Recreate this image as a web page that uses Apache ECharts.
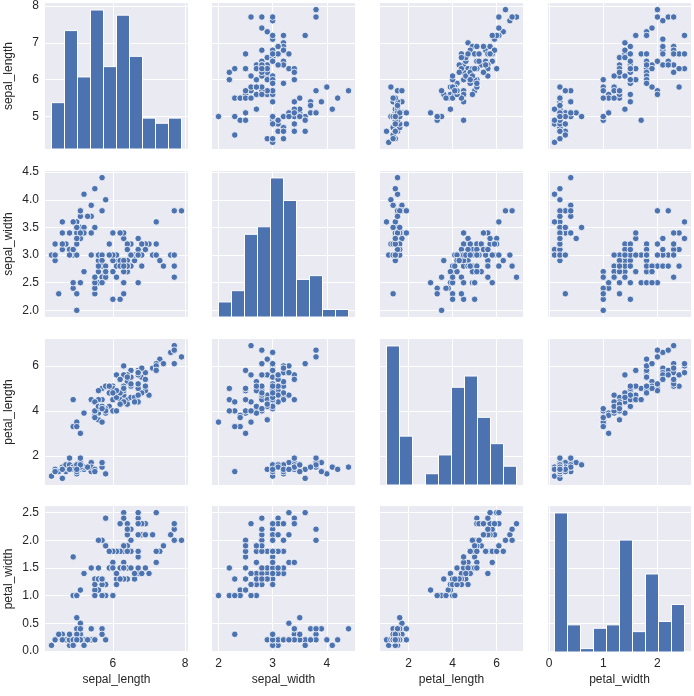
<!DOCTYPE html>
<html><head><meta charset="utf-8">
<script src="https://cdn.jsdelivr.net/npm/echarts@6/dist/echarts.min.js"></script>
<style>html,body{margin:0;background:#fff}#c{width:694px;height:696px}</style>
</head><body><div id="c"></div>
<script>
// iris dataset, read column by column
var sepalLength = [5.1,4.9,4.7,4.6,5.0,5.4,4.6,5.0,4.4,4.9,5.4,4.8,4.8,4.3,5.8,5.7,5.4,5.1,5.7,5.1,5.4,5.1,4.6,5.1,4.8,5.0,5.0,5.2,5.2,4.7,4.8,5.4,5.2,5.5,4.9,5.0,5.5,4.9,4.4,5.1,5.0,4.5,4.4,5.0,5.1,4.8,5.1,4.6,5.3,5.0,
  7.0,6.4,6.9,5.5,6.5,5.7,6.3,4.9,6.6,5.2,5.0,5.9,6.0,6.1,5.6,6.7,5.6,5.8,6.2,5.6,5.9,6.1,6.3,6.1,6.4,6.6,6.8,6.7,6.0,5.7,5.5,5.5,5.8,6.0,5.4,6.0,6.7,6.3,5.6,5.5,5.5,6.1,5.8,5.0,5.6,5.7,5.7,6.2,5.1,5.7,
  6.3,5.8,7.1,6.3,6.5,7.6,4.9,7.3,6.7,7.2,6.5,6.4,6.8,5.7,5.8,6.4,6.5,7.7,7.7,6.0,6.9,5.6,7.7,6.3,6.7,7.2,6.2,6.1,6.4,7.2,7.4,7.9,6.4,6.3,6.1,7.7,6.3,6.4,6.0,6.9,6.7,6.9,5.8,6.8,6.7,6.7,6.3,6.5,6.2,5.9];
var sepalWidth = [3.5,3.0,3.2,3.1,3.6,3.9,3.4,3.4,2.9,3.1,3.7,3.4,3.0,3.0,4.0,4.4,3.9,3.5,3.8,3.8,3.4,3.7,3.6,3.3,3.4,3.0,3.4,3.5,3.4,3.2,3.1,3.4,4.1,4.2,3.1,3.2,3.5,3.6,3.0,3.4,3.5,2.3,3.2,3.5,3.8,3.0,3.8,3.2,3.7,3.3,
  3.2,3.2,3.1,2.3,2.8,2.8,3.3,2.4,2.9,2.7,2.0,3.0,2.2,2.9,2.9,3.1,3.0,2.7,2.2,2.5,3.2,2.8,2.5,2.8,2.9,3.0,2.8,3.0,2.9,2.6,2.4,2.4,2.7,2.7,3.0,3.4,3.1,2.3,3.0,2.5,2.6,3.0,2.6,2.3,2.7,3.0,2.9,2.9,2.5,2.8,
  3.3,2.7,3.0,2.9,3.0,3.0,2.5,2.9,2.5,3.6,3.2,2.7,3.0,2.5,2.8,3.2,3.0,3.8,2.6,2.2,3.2,2.8,2.8,2.7,3.3,3.2,2.8,3.0,2.8,3.0,2.8,3.8,2.8,2.8,2.6,3.0,3.4,3.1,3.0,3.1,3.1,3.1,2.7,3.2,3.3,3.0,2.5,3.0,3.4,3.0];
var petalLength = [1.4,1.4,1.3,1.5,1.4,1.7,1.4,1.5,1.4,1.5,1.5,1.6,1.4,1.1,1.2,1.5,1.3,1.4,1.7,1.5,1.7,1.5,1.0,1.7,1.9,1.6,1.6,1.5,1.4,1.6,1.6,1.5,1.5,1.4,1.5,1.2,1.3,1.4,1.3,1.5,1.3,1.3,1.3,1.6,1.9,1.4,1.6,1.4,1.5,1.4,
  4.7,4.5,4.9,4.0,4.6,4.5,4.7,3.3,4.6,3.9,3.5,4.2,4.0,4.7,3.6,4.4,4.5,4.1,4.5,3.9,4.8,4.0,4.9,4.7,4.3,4.4,4.8,5.0,4.5,3.5,3.8,3.7,3.9,5.1,4.5,4.5,4.7,4.4,4.1,4.0,4.4,4.6,4.0,3.3,4.2,4.2,4.2,4.3,3.0,4.1,
  6.0,5.1,5.9,5.6,5.8,6.6,4.5,6.3,5.8,6.1,5.1,5.3,5.5,5.0,5.1,5.3,5.5,6.7,6.9,5.0,5.7,4.9,6.7,4.9,5.7,6.0,4.8,4.9,5.6,5.8,6.1,6.4,5.6,5.1,5.6,6.1,5.6,5.5,4.8,5.4,5.6,5.1,5.1,5.9,5.7,5.2,5.0,5.2,5.4,5.1];
var petalWidth = [0.2,0.2,0.2,0.2,0.2,0.4,0.3,0.2,0.2,0.1,0.2,0.2,0.1,0.1,0.2,0.4,0.4,0.3,0.3,0.3,0.2,0.4,0.2,0.5,0.2,0.2,0.4,0.2,0.2,0.2,0.2,0.4,0.1,0.2,0.2,0.2,0.2,0.1,0.2,0.2,0.3,0.3,0.2,0.6,0.4,0.3,0.2,0.2,0.2,0.2,
  1.4,1.5,1.5,1.3,1.5,1.3,1.6,1.0,1.3,1.4,1.0,1.5,1.0,1.4,1.3,1.4,1.5,1.0,1.5,1.1,1.8,1.3,1.5,1.2,1.3,1.4,1.4,1.7,1.5,1.0,1.1,1.0,1.2,1.6,1.5,1.6,1.5,1.3,1.3,1.3,1.2,1.4,1.2,1.0,1.3,1.2,1.3,1.3,1.1,1.3,
  2.5,1.9,2.1,1.8,2.2,2.1,1.7,1.8,1.8,2.5,2.0,1.9,2.1,2.0,2.4,2.3,1.8,2.2,2.3,1.5,2.3,2.0,2.0,1.8,2.1,1.8,1.8,1.8,2.1,1.6,1.9,2.0,2.2,1.5,1.4,2.3,2.4,1.8,1.8,2.1,2.4,2.3,1.9,2.3,2.5,2.3,1.9,2.0,2.3,1.8];

var names = ['sepal_length', 'sepal_width', 'petal_length', 'petal_width'];
var columns = [sepalLength, sepalWidth, petalLength, petalWidth];
// 10-bin histogram counts
var histCounts = [
  [9, 23, 14, 27, 16, 26, 18, 6, 5, 6],
  [4, 7, 22, 24, 37, 31, 10, 11, 2, 2],
  [37, 13, 0, 3, 8, 26, 29, 18, 11, 5],
  [41, 8, 1, 7, 8, 33, 6, 23, 9, 14]
];
var xTicks = [[6, 8], [2, 3, 4], [2, 4, 6], [0, 1, 2]];
var yTicks = [[5, 6, 7, 8], [2.0, 2.5, 3.0, 3.5, 4.0, 4.5], [2, 4, 6], [0.0, 0.5, 1.0, 1.5, 2.0, 2.5]];
var yDigits = [0, 1, 0, 1];

var lefts = [45, 212, 380, 548], tops = [3, 171, 339, 506], W = 143, H = 146;
var blue = '#4c72b0', txt = '#262626', font = 'Liberation Sans';

function range(a) {
  var mn = Math.min.apply(null, a), mx = Math.max.apply(null, a), p = (mx - mn) * 0.05;
  return [mn - p, mx + p];
}

var grid = [], xAxis = [], yAxis = [], series = [];
for (var r = 0; r < 4; r++) {
  for (var c = 0; c < 4; c++) {
    var gi = grid.length;
    grid.push({left: lefts[c], top: tops[r], width: W, height: H, show: true,
      backgroundColor: '#eaeaf2', borderWidth: 0});
    var xr = range(columns[c]), yr = range(columns[r]);
    xAxis.push({type: 'value', gridIndex: gi, min: xr[0], max: xr[1],
      axisLine: {show: false}, axisTick: {show: false, customValues: xTicks[c]},
      splitLine: {lineStyle: {color: '#fff', width: 1}},
      axisLabel: {show: r === 3, customValues: xTicks[c], color: txt, fontFamily: font, fontSize: 12, margin: 6},
      name: r === 3 ? names[c] : '', nameLocation: 'middle', nameGap: 22,
      nameTextStyle: {color: txt, fontFamily: font, fontSize: 12}});
    var yi = yAxis.length;
    yAxis.push({type: 'value', gridIndex: gi, min: yr[0], max: yr[1],
      axisLine: {show: false}, axisTick: {show: false, customValues: yTicks[r]},
      splitLine: {lineStyle: {color: '#fff', width: 1}},
      axisLabel: {show: c === 0, customValues: yTicks[r], color: txt, fontFamily: font, fontSize: 12, margin: 6,
        formatter: (function (d) { return function (v) { return v.toFixed(d); }; })(yDigits[r])},
      name: c === 0 ? names[r] : '', nameLocation: 'middle', nameGap: 30, nameRotate: 90,
      nameTextStyle: {color: txt, fontFamily: font, fontSize: 12}});
    if (r === c) {
      var counts = histCounts[c];
      var mn = Math.min.apply(null, columns[c]), mx = Math.max.apply(null, columns[c]);
      var bw = (mx - mn) / counts.length;
      var bars = counts.map(function (n, i) { return [mn + i * bw, mn + (i + 1) * bw, n]; });
      var hi = yAxis.length;
      yAxis.push({type: 'value', gridIndex: gi, min: 0, max: Math.max.apply(null, counts) * 1.05,
        show: false, splitLine: {show: false}});
      series.push({type: 'custom', xAxisIndex: gi, yAxisIndex: hi, data: bars,
        encode: {x: [0, 1], y: 2},
        renderItem: function (params, api) {
          var p0 = api.coord([api.value(0), 0]), p1 = api.coord([api.value(1), api.value(2)]);
          return {type: 'rect', shape: {x: p0[0], y: p1[1], width: p1[0] - p0[0], height: p0[1] - p1[1]},
            style: {fill: blue, stroke: '#fff', lineWidth: 1}};
        }});
    } else {
      var pts = columns[c].map(function (v, i) { return [v, columns[r][i]]; });
      series.push({type: 'scatter', xAxisIndex: gi, yAxisIndex: yi, data: pts, symbolSize: 6.5,
        itemStyle: {color: blue, borderColor: '#fff', borderWidth: 0.8, opacity: 1}});
    }
  }
}

var chart = echarts.init(document.getElementById('c'));
chart.setOption({animation: false, backgroundColor: '#fff', grid: grid, xAxis: xAxis, yAxis: yAxis, series: series});
</script></body></html>
